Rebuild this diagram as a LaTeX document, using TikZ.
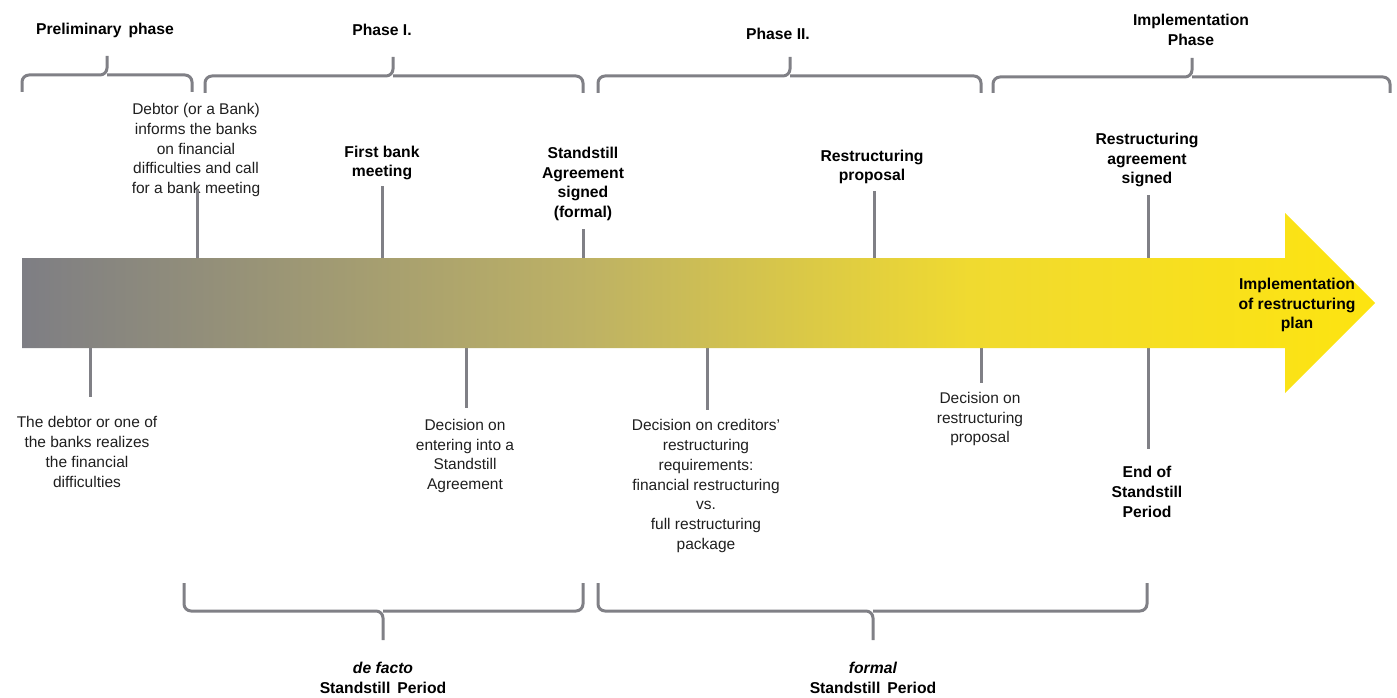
\documentclass[tikz,border=0pt]{standalone}
\usepackage{fontspec}
\setmainfont{Liberation Sans}
\usetikzlibrary{positioning}
\definecolor{linegray}{RGB}{128,128,134}
\definecolor{startgray}{RGB}{126,126,132}
\definecolor{midkhaki}{RGB}{190,178,100}
\definecolor{warmyellow}{RGB}{240,218,48}
\definecolor{endyellow}{RGB}{253,228,16}
\pgfdeclarehorizontalshading{timeline}{100bp}{color(0bp)=(startgray); color(25bp)=(startgray);
   color(46bp)=(midkhaki); color(60bp)=(warmyellow); color(75bp)=(endyellow); color(100bp)=(endyellow)}

\begin{document}
\begin{tikzpicture}[
    x=1pt, y=-1pt,
    txt/.style={align=center, inner sep=0pt, text=black!88, font=\fontsize{15.5}{19.7}\selectfont},
    hd/.style={txt, text=black, font=\fontsize{15.7}{19.7}\selectfont\bfseries},
    stem/.style={draw=linegray, line width=3pt},
    brc/.style={draw=linegray, line width=3pt, rounded corners=7pt},
    ]
   \useasboundingbox (0,0) rectangle (1397,698);

   % Phase headings
   \node[hd] (prelim) at (105,30) {Preliminary\,\ phase};
   \node[hd] (phaseI) at (382,30) {Phase I.};
   \node[hd] (phaseII) at (778,34) {Phase II.};
   \node[hd] (implph) at (1191,30) {Implementation\\Phase};

   % Phase braces
   \draw[brc] (22,92) |- (107,75) -- (107,56);
   \draw[brc] (107,75) -| (192,92);
   \draw[brc] (205,93) |- (393,76) -- (393,57);
   \draw[brc] (393,76) -| (583,93);
   \draw[brc] (598,93) |- (790,76) -- (790,57);
   \draw[brc] (790,76) -| (981,93);
   \draw[brc] (993,93) |- (1192,77) -- (1192,58);
   \draw[brc] (1192,77) -| (1390,93);

   % Events above the timeline
   \node[txt] (debtor) at (196,150) {Debtor (or a Bank)\\informs the banks\\on financial\\difficulties and call\\for a bank meeting};
   \node[hd] (firstmeet) at (382,163) {First bank\\meeting};
   \node[hd] (standstill) at (583,184) {Standstill\\Agreement\\signed\\(formal)};
   \node[hd] (restprop) at (872,167) {Restructuring\\proposal};
   \node[hd] (restagr) at (1147,160) {Restructuring\\agreement\\signed};

   % Events below the timeline
   \node[txt] (realize) at (87,452) {The debtor or one of\\the banks realizes\\the financial\\difficulties};
   \node[txt] (entering) at (465,456) {Decision on\\entering into a\\Standstill\\Agreement};
   \node[txt] (creditors) at (706,486) {Decision on creditors’\\restructuring\\requirements:\\financial restructuring\\vs.\\full restructuring\\package};
   \node[txt] (decprop) at (980,419) {Decision on\\restructuring\\proposal};
   \node[hd] (endss) at (1147,492) {End of\\Standstill\\Period};

   % Points on the timeline
   \coordinate (t_debtor) at (197,258);
   \coordinate (t_meet) at (382,258);
   \coordinate (t_signed) at (583,258);
   \coordinate (t_prop) at (874,258);
   \coordinate (t_agr) at (1148,258);
   \coordinate (b_realize) at (90,348);
   \coordinate (b_enter) at (466,348);
   \coordinate (b_cred) at (707,348);
   \coordinate (b_prop) at (981,348);
   \coordinate (b_end) at (1148,348);

   \draw[stem] ([yshift=8pt]debtor.south -| t_debtor) -- (t_debtor);
   \draw[stem, shorten <=6pt] (firstmeet.south -| t_meet) -- (t_meet);
   \draw[stem, shorten <=8pt] (standstill.south -| t_signed) -- (t_signed);
   \draw[stem, shorten <=7pt] (restprop.south -| t_prop) -- (t_prop);
   \draw[stem, shorten <=8pt] (restagr.south -| t_agr) -- (t_agr);

   \draw[stem, shorten >=20pt] (b_realize) -- (realize.north -| b_realize);
   \draw[stem, shorten >=11pt] (b_enter) -- (entering.north -| b_enter);
   \draw[stem, shorten >=9pt] (b_cred) -- (creditors.north -| b_cred);
   \draw[stem, shorten >=9pt] (b_prop) -- (decprop.north -| b_prop);
   \draw[stem, shorten >=17pt] (b_end) -- (endss.north -| b_end);

   % Timeline arrow
   \shade[shading=timeline]
      (22,258) -- (1285,258) -- (1285,213) -- (1375,303) -- (1285,393) -- (1285,348) -- (22,348) -- cycle;
   \node[hd] (implplan) at (1297,305) {Implementation\\of restructuring\\plan};

   % Standstill braces
   \draw[brc] (184,583) |- (383,611) -- (383,640);
   \draw[brc] (383,611) -| (583,583);
   \draw[brc] (598,583) |- (873,611) -- (873,640);
   \draw[brc] (873,611) -| (1147,583);

   \node[hd] (defacto) at (383,678) {\textit{de facto}\\Standstill\,\ Period};
   \node[hd] (formal) at (873,678) {\textit{formal}\\Standstill\,\ Period};

\end{tikzpicture}
\end{document}
